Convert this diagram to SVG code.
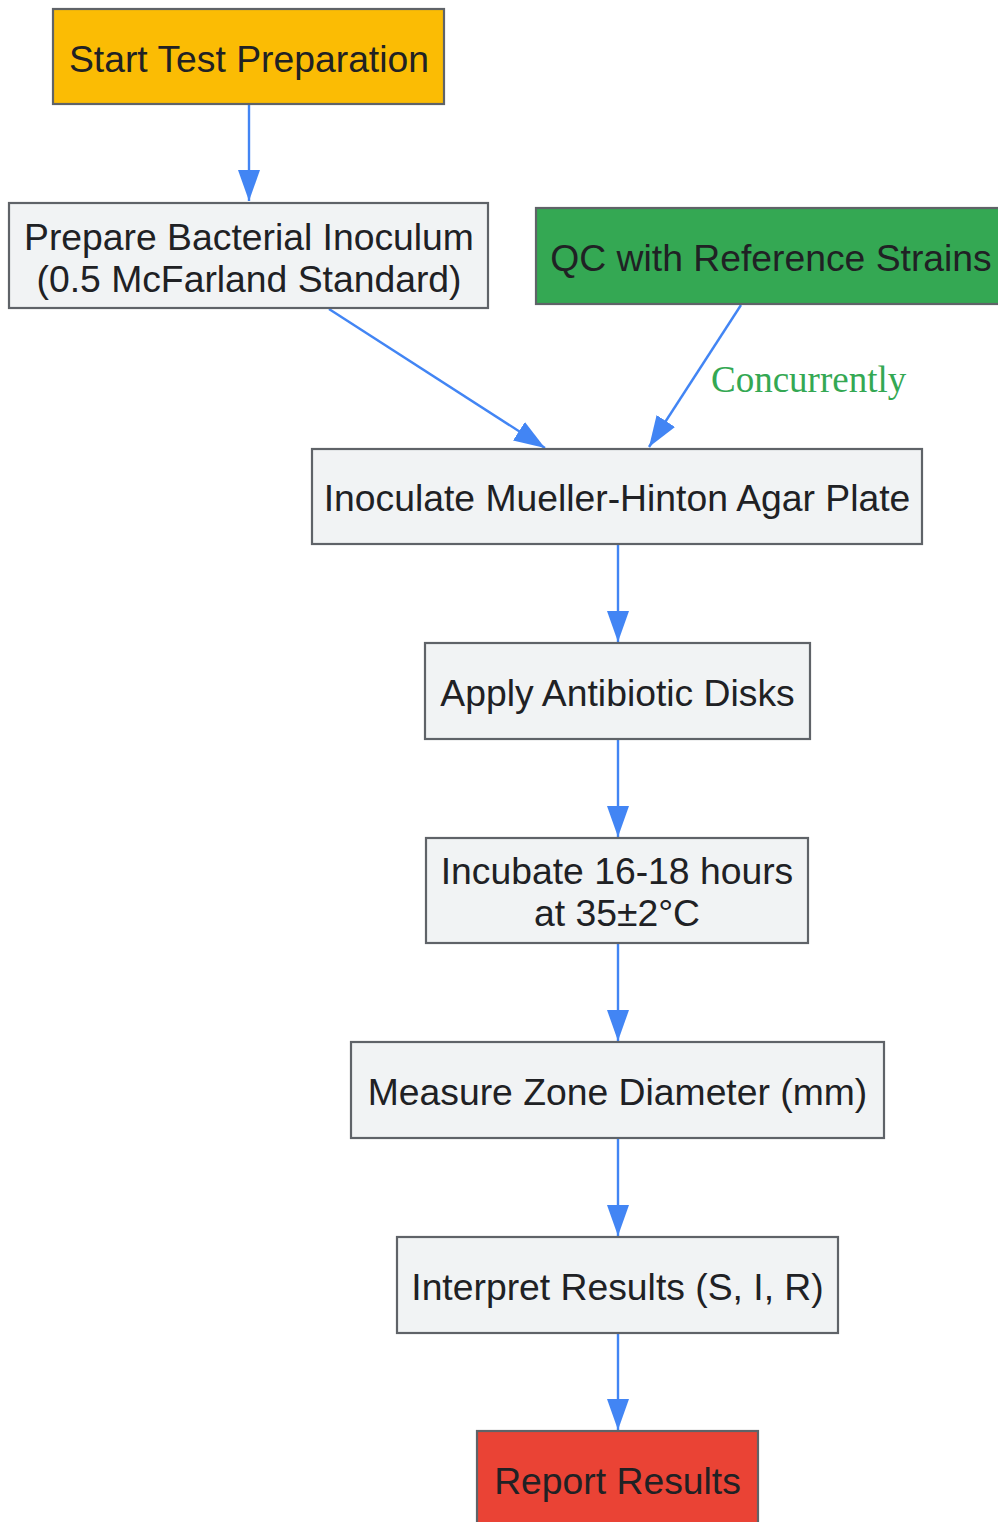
<svg xmlns="http://www.w3.org/2000/svg" width="998" height="1522" viewBox="0 0 998 1522">
<style>
.box{stroke:#5f6368;stroke-width:2.2;fill:#f1f3f4}
.t{font-family:"Liberation Sans",Arial,sans-serif;font-size:37.3px;fill:#202124;text-anchor:middle}
.e{stroke:#4285f4;stroke-width:2.4;fill:none;marker-end:url(#ah)}
.lbl{font-family:"Liberation Serif","Times New Roman",serif;font-size:37px;fill:#34a853}
</style>
<defs>
<marker id="ah" markerUnits="userSpaceOnUse" markerWidth="31" markerHeight="22" refX="31" refY="11" orient="auto">
<path d="M0,0 L31,11 L0,22 z" fill="#4285f4"/>
</marker>
</defs>
<rect width="998" height="1522" fill="#ffffff"/>
<g id="edges">
<path class="e" d="M249,105 L249,201"/>
<path class="e" d="M329,309 L545,448"/>
<path class="e" d="M741,305 L649,447"/>
<text class="lbl" x="711" y="392">Concurrently</text>
<path class="e" d="M618,545 L618,642"/>
<path class="e" d="M618,740 L618,837"/>
<path class="e" d="M618,944 L618,1041"/>
<path class="e" d="M618,1139 L618,1236"/>
<path class="e" d="M618,1334 L618,1430"/>
</g>
<g id="start">
<rect class="box" x="53" y="9" width="391" height="95" style="fill:#fbbc04"/>
<text class="t" x="249" y="72">Start Test Preparation</text>
</g>
<g id="prepare">
<rect class="box" x="9" y="203" width="479" height="105"/>
<text class="t" x="249" y="250">Prepare Bacterial Inoculum</text>
<text class="t" x="249" y="292">(0.5 McFarland Standard)</text>
</g>
<g id="qc">
<rect class="box" x="536" y="208" width="470" height="96" style="fill:#34a853"/>
<text class="t" x="771" y="271">QC with Reference Strains</text>
</g>
<g id="inoculate">
<rect class="box" x="312" y="449" width="610" height="95"/>
<text class="t" x="617" y="511">Inoculate Mueller-Hinton Agar Plate</text>
</g>
<g id="apply">
<rect class="box" x="425" y="643" width="385" height="96"/>
<text class="t" x="617.5" y="706">Apply Antibiotic Disks</text>
</g>
<g id="incubate">
<rect class="box" x="426" y="838" width="382" height="105"/>
<text class="t" x="617" y="884">Incubate 16-18 hours</text>
<text class="t" x="617" y="926">at 35±2°C</text>
</g>
<g id="measure">
<rect class="box" x="351" y="1042" width="533" height="96"/>
<text class="t" x="617.5" y="1105">Measure Zone Diameter (mm)</text>
</g>
<g id="interpret">
<rect class="box" x="397" y="1237" width="441" height="96"/>
<text class="t" x="617.5" y="1300">Interpret Results (S, I, R)</text>
</g>
<g id="report">
<rect class="box" x="477" y="1431" width="281" height="96" style="fill:#ea4335"/>
<text class="t" x="617.5" y="1494">Report Results</text>
</g>
</svg>
